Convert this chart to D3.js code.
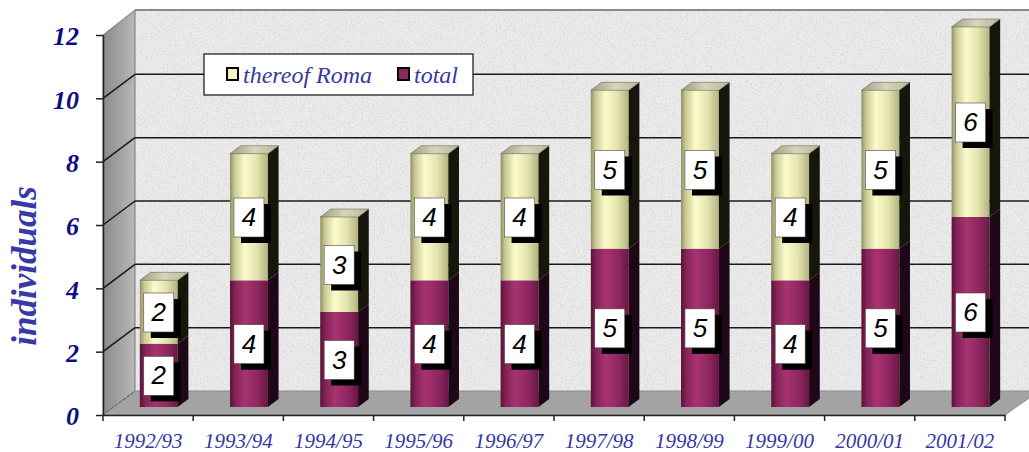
<!DOCTYPE html>
<html>
<head>
<meta charset="utf-8">
<script src="https://cdn.jsdelivr.net/npm/d3@7"></script>
<style>
  body { margin: 0; background: #fff; }
  svg { display: block; }
  .serif { font-family: "Liberation Serif", "Times New Roman", "DejaVu Serif", serif; font-style: italic; }
  .sans { font-family: "Liberation Sans", Arial, "DejaVu Sans", sans-serif; font-style: italic; }
</style>
</head>
<body>
<div id="chart"></div>
<script>
// data
const categories = ["1992/93", "1993/94", "1994/95", "1995/96", "1996/97",
                    "1997/98", "1998/99", "1999/00", "2000/01", "2001/02"];
const totalValues = [2, 4, 3, 4, 4, 5, 5, 4, 5, 6];
const romaValues  = [2, 4, 3, 4, 4, 5, 5, 4, 5, 6];
const yTicks = [0, 2, 4, 6, 8, 10, 12];
const seriesNames = ["thereof Roma", "total"];

const W = 1029, H = 452;
const DX = 32, DY = 24;           // depth of the 3d box
const plotL = 103, plotR = 1005, plotT = 35, plotB = 415;

const svg = d3.select("#chart").append("svg")
    .attr("width", W).attr("height", H);

const defs = svg.append("defs");

// stone texture for the walls
const stone = defs.append("filter").attr("id", "stone")
    .attr("x", 0).attr("y", 0).attr("width", 1).attr("height", 1);
stone.append("feTurbulence").attr("type", "fractalNoise")
    .attr("baseFrequency", 0.55).attr("numOctaves", 3).attr("seed", 4).attr("result", "n");
stone.append("feColorMatrix").attr("in", "n").attr("type", "matrix")
    .attr("values", "0 0 0 0 0.6  0 0 0 0 0.6  0 0 0 0 0.6  1.6 0 0 0 -0.72")
    .attr("result", "c");
stone.append("feComposite").attr("in", "c").attr("in2", "SourceGraphic").attr("operator", "in").attr("result", "t");
const merge = stone.append("feMerge");
merge.append("feMergeNode").attr("in", "SourceGraphic");
merge.append("feMergeNode").attr("in", "t");

function hGrad(id, stops) {
    const g = defs.append("linearGradient").attr("id", id)
        .attr("x1", 0).attr("x2", 1).attr("y1", 0).attr("y2", 0);
    stops.forEach(([o, c]) => g.append("stop").attr("offset", o).attr("stop-color", c));
}
hGrad("gRoma", [[0, "#8f8f62"], [0.12, "#c9c994"], [0.38, "#fbfbcc"], [0.7, "#e4e4ae"], [1, "#b3b382"]]);
hGrad("gTotal", [[0, "#5a1236"], [0.15, "#86245a"], [0.4, "#a8336f"], [0.75, "#8c2660"], [1, "#661840"]]);
hGrad("gCap", [[0, "#9c9c80"], [0.5, "#d6d6b8"], [1, "#b8b898"]]);
hGrad("gWall", [[0, "#8a8a8a"], [1, "#b8b8b8"]]);

// scales
const y = d3.scaleLinear().domain([0, 12]).range([plotB, plotT]);
const xAxisBand = d3.scaleBand().domain(categories).range([plotL, plotR]);
const xBar = d3.scaleBand().domain(categories).range([plotL, plotR])
    .paddingInner(0.58).paddingOuter(0.29);

const P = (x, yy, z) => [x + DX * z, yy - DY * z];
const poly = pts => pts.map(p => p.join(",")).join(" ");

// back wall
const backTop = 10;
svg.append("polygon")
    .attr("points", poly([[plotL + DX, backTop], [W + 20, backTop], [W + 20, plotB - DY], [plotL + DX, plotB - DY]]))
    .attr("fill", "#ebebeb").attr("filter", "url(#stone)");
svg.append("line").attr("x1", plotL + DX).attr("x2", W).attr("y1", backTop).attr("y2", backTop)
    .attr("stroke", "#8a8a8a").attr("stroke-width", 2);

// left side wall
svg.append("polygon")
    .attr("points", poly([P(plotL, y(12), 0), [plotL + DX, backTop], P(plotL, plotB, 1), P(plotL, plotB, 0)]))
    .attr("fill", "url(#gWall)").attr("stroke", "#777").attr("stroke-width", 1);

// floor
svg.append("polygon")
    .attr("points", poly([P(plotL, plotB, 0), P(plotR, plotB, 0), [W + 10, plotB - DY], P(plotL, plotB, 1)]))
    .attr("fill", "#a3a3a3").attr("stroke", "#8a8a8a").attr("stroke-width", 1);

// gridlines on back and side wall
const grid = svg.append("g");
yTicks.filter(v => v > 0 && v < 12).forEach(v => {
    const f = P(plotL, y(v), 0), b = P(plotL, y(v), 1);
    grid.append("line").attr("x1", f[0]).attr("y1", f[1]).attr("x2", b[0]).attr("y2", b[1])
        .attr("stroke", "#1a1a1a").attr("stroke-width", 1.5);
    grid.append("line").attr("x1", b[0]).attr("y1", b[1]).attr("x2", W).attr("y2", b[1])
        .attr("stroke", "#1a1a1a").attr("stroke-width", 1.5);
});
// dashed line where side wall meets floor
grid.append("line").attr("x1", plotL).attr("y1", plotB).attr("x2", plotL + DX).attr("y2", plotB - DY)
    .attr("stroke", "#555").attr("stroke-width", 1).attr("stroke-dasharray", "3,2");

// legend
const legend = svg.append("g").attr("transform", "translate(204,54)");
legend.append("rect").attr("width", 269).attr("height", 41)
    .attr("fill", "#fff").attr("stroke", "#111").attr("stroke-width", 1.2);
const legendItems = [
    {name: seriesNames[0], fill: "#f4f4c2", x: 23},
    {name: seriesNames[1], fill: "#8a2a5c", x: 194}
];
legendItems.forEach(d => {
    legend.append("rect").attr("x", d.x).attr("y", 14).attr("width", 11).attr("height", 12)
        .attr("fill", d.fill).attr("stroke", "#000").attr("stroke-width", 2);
    legend.append("text").attr("class", "serif").attr("x", d.x + 16).attr("y", 29)
        .style("font-size", "24px").attr("fill", "#3838a2").text(d.name);
});

// stacked bars
const table = categories.map((c, i) => ({cat: c, total: totalValues[i], roma: romaValues[i]}));
const stack = d3.stack().keys(["total", "roma"])(table);
const fills = {total: "url(#gTotal)", roma: "url(#gRoma)"};
const sides = {total: "#1e0716", roma: "#16160c"};

const bars = svg.append("g");
const bw = xBar.bandwidth();
table.forEach((row, i) => {
    const x0 = xBar(row.cat), x1 = x0 + bw;
    stack.forEach((s, k) => {
        const seg = s[i];
        const yb = y(seg[0]), yt = y(seg[1]);
        const fTop = P(x0, yt, 1 / 3);
        bars.append("rect").attr("x", fTop[0]).attr("y", fTop[1])
            .attr("width", bw).attr("height", yb - yt)
            .attr("fill", fills[s.key]);
        bars.append("polygon")
            .attr("points", poly([P(x1, yt, 1 / 3), P(x1, yt, 2 / 3), P(x1, yb, 2 / 3), P(x1, yb, 1 / 3)]))
            .attr("fill", sides[s.key]);
        if (k === stack.length - 1) {
            bars.append("polygon")
                .attr("points", poly([P(x0, yt, 1 / 3), P(x1, yt, 1 / 3), P(x1, yt, 2 / 3), P(x0, yt, 2 / 3)]))
                .attr("fill", "url(#gCap)").attr("stroke", "#555").attr("stroke-width", 0.5);
        }
    });
});

// value labels
const labels = svg.append("g");
table.forEach((row, i) => {
    const cx = xBar(row.cat) + bw / 2 + DX / 3;
    stack.forEach(s => {
        const seg = s[i];
        const cy = y((seg[0] + seg[1]) / 2) - DY / 3;
        labels.append("rect").attr("x", cx - 15 + 7).attr("y", cy - 19 + 6)
            .attr("width", 30).attr("height", 39).attr("fill", "#000");
        labels.append("rect").attr("x", cx - 15).attr("y", cy - 19)
            .attr("width", 30).attr("height", 39)
            .attr("fill", "#fff").attr("stroke", "#444").attr("stroke-width", 0.6);
        labels.append("text").attr("class", "sans").attr("x", cx).attr("y", cy + 9)
            .attr("text-anchor", "middle")
            .style("font-size", "26px").attr("fill", "#000")
            .text(seg[1] - seg[0]);
    });
});

// y axis
const yAxis = svg.append("g").attr("transform", `translate(${plotL},0)`)
    .call(d3.axisLeft(y).tickValues(yTicks).tickSize(7).tickSizeOuter(0));
yAxis.attr("font-family", null);
yAxis.select(".domain").attr("stroke", "#222").attr("stroke-width", 1.5);
yAxis.selectAll(".tick line").attr("stroke", "#222").attr("stroke-width", 1.5);
yAxis.selectAll(".tick text")
    .attr("class", "serif")
    .attr("x", -24).attr("dy", "0.38em")
    .style("font-weight", "bold").style("font-size", "26px").attr("fill", "#0d0d86");

// x axis
const xAxis = svg.append("g").attr("transform", `translate(0,${plotB})`)
    .call(d3.axisBottom(xAxisBand).tickSize(0).tickSizeOuter(0));
xAxis.attr("font-family", null);
xAxis.select(".domain").attr("stroke", "#222").attr("stroke-width", 1.5);
xAxis.selectAll(".tick text")
    .attr("class", "serif")
    .attr("y", 33).attr("dy", 0)
    .style("font-size", "21px").attr("fill", "#3535a5");
categories.concat([null]).forEach(c => {
    const xx = c ? xAxisBand(c) : plotR;
    xAxis.append("line").attr("x1", xx).attr("x2", xx).attr("y1", 0).attr("y2", 6)
        .attr("stroke", "#222").attr("stroke-width", 1.5);
});

// y axis title
svg.append("text").attr("class", "serif")
    .attr("transform", "translate(36,266) rotate(-90)")
    .attr("text-anchor", "middle")
    .style("font-weight", "bold").style("font-size", "35px").attr("fill", "#3838a6")
    .text("individuals");
</script>
</body>
</html>
